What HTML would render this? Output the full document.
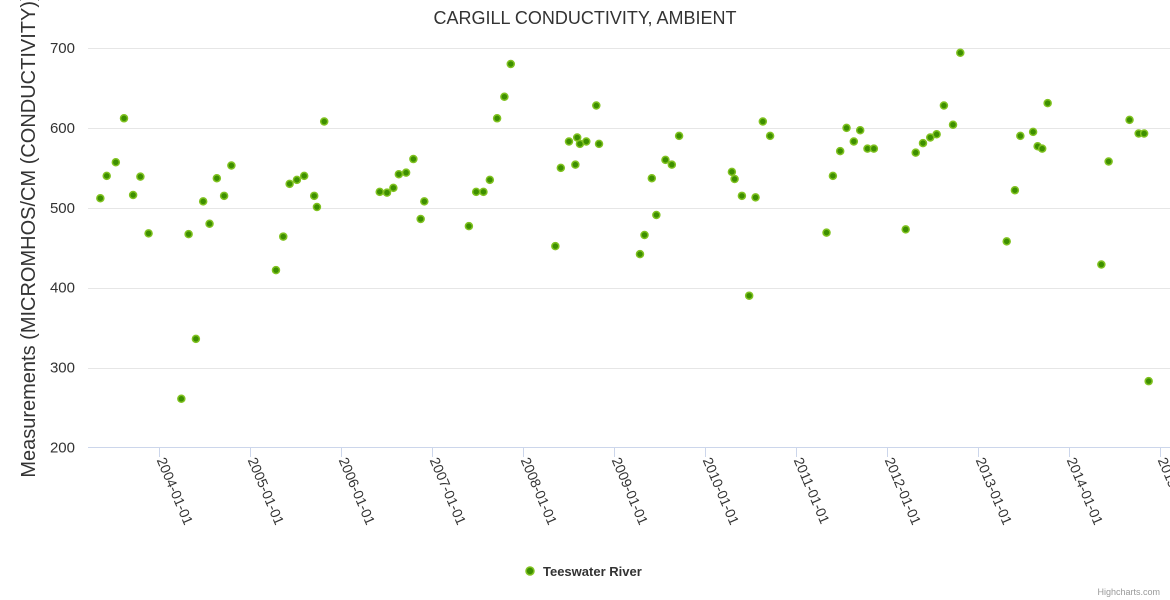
<!DOCTYPE html>
<html><head><meta charset="utf-8"><style>
html,body{margin:0;padding:0;background:#fff;}
svg{display:block;font-family:"Liberation Sans",sans-serif;}
</style></head><body>
<svg id="chart" width="1170" height="600">
<text x="585" y="24" text-anchor="middle" font-size="18" fill="#333">CARGILL CONDUCTIVITY, AMBIENT</text>
<g id="grid"></g>
<g id="yticks"></g>
<text transform="translate(35,236) rotate(-90)" text-anchor="middle" font-size="20" fill="#333">Measurements (MICROMHOS/CM (CONDUCTIVITY))</text>
<line x1="88" y1="447.5" x2="1170" y2="447.5" stroke="#ccd6eb" stroke-width="1"/>
<g id="xticks"></g>
<g id="points"></g>
<g>
<circle cx="530" cy="571" r="4" fill="#3d8f00" stroke="#80c220" stroke-width="1.5"/>
<text x="543" y="576" font-size="13" font-weight="bold" fill="#333">Teeswater River</text>
</g>
<text x="1160" y="595" text-anchor="end" font-size="9" fill="#999">Highcharts.com</text>
</svg>
<script>
const years=[2003.35,2003.42,2003.52,2003.61,2003.71,2003.79,2003.88,2004.24,2004.32,2004.40,2004.48,2004.55,2004.63,2004.71,2004.79,2005.28,2005.36,2005.43,2005.51,2005.59,2005.70,2005.73,2005.81,2006.42,2006.50,2006.57,2006.63,2006.71,2006.79,2006.87,2006.91,2007.40,2007.48,2007.56,2007.63,2007.71,2007.79,2007.86,2008.35,2008.41,2008.50,2008.57,2008.59,2008.62,2008.69,2008.80,2008.83,2009.28,2009.33,2009.41,2009.46,2009.56,2009.63,2009.71,2010.29,2010.32,2010.40,2010.48,2010.55,2010.63,2010.71,2011.33,2011.40,2011.48,2011.55,2011.63,2011.70,2011.78,2011.85,2012.20,2012.31,2012.39,2012.47,2012.54,2012.62,2012.72,2012.80,2013.31,2013.40,2013.46,2013.60,2013.65,2013.70,2013.76,2014.35,2014.43,2014.66,2014.76,2014.82,2014.87];
const values=[512,540,557,612,516,539,468,261,467,336,508,480,537,515,553,422,464,530,535,540,515,501,608,520,519,525,542,544,561,486,508,477,520,520,535,612,639,680,452,550,583,554,588,580,583,628,580,442,466,537,491,560,554,590,545,536,515,390,513,608,590,469,540,571,600,583,597,574,574,473,569,581,588,592,628,604,694,458,522,590,595,577,574,631,429,558,610,593,593,283];
const yTicks=[200,300,400,500,600,700];
const xTickYears=[2004,2005,2006,2007,2008,2009,2010,2011,2012,2013,2014,2015];
const xTickLabels=["2004-01-01","2005-01-01","2006-01-01","2007-01-01","2008-01-01","2009-01-01","2010-01-01","2011-01-01","2012-01-01","2013-01-01","2014-01-01","2015-01-01"];
const NS="http://www.w3.org/2000/svg";
function xs(yr){return 159.5+(yr-2004)*91;}
function ys(v){return 447.5-(v-200)*(399.5/500);}
const grid=document.getElementById('grid'),yt=document.getElementById('yticks');
yTicks.forEach(v=>{
 if(v>200){const l=document.createElementNS(NS,'line');
 
 
 l.setAttribute('x1',88);l.setAttribute('x2',1170);l.setAttribute('y1',Math.round(ys(v))+0.5);l.setAttribute('y2',Math.round(ys(v))+0.5);
 l.setAttribute('stroke','#e6e6e6');grid.appendChild(l);}
 const t=document.createElementNS(NS,'text');
 
 
 t.setAttribute('x',75);t.setAttribute('y',ys(v)+5);t.setAttribute('text-anchor','end');
 t.setAttribute('font-size','15');t.setAttribute('fill','#333');t.textContent=v;yt.appendChild(t);
});
const xt=document.getElementById('xticks');
xTickYears.forEach((yr,i)=>{
 const x=xs(yr);
 const l=document.createElementNS(NS,'line');
 
 
 l.setAttribute('x1',x);l.setAttribute('x2',x);l.setAttribute('y1',447);l.setAttribute('y2',457);l.setAttribute('stroke','#ccd6eb');xt.appendChild(l);
 const t=document.createElementNS(NS,'text');
 
 
 t.setAttribute('transform','translate('+(x-3)+',460) rotate(67)');
 t.setAttribute('font-size','14');t.setAttribute('fill','#333');t.textContent=xTickLabels[i];xt.appendChild(t);
});
const pts=document.getElementById('points');
years.forEach((yr,i)=>{
 const c=document.createElementNS(NS,'circle');
 
 
 c.setAttribute('cx',xs(yr));c.setAttribute('cy',ys(values[i]));c.setAttribute('r',3.5);
 c.setAttribute('fill','#3d8f00');c.setAttribute('stroke','#80c220');c.setAttribute('stroke-width','1.5');
 pts.appendChild(c);
});
</script>
</body></html>
